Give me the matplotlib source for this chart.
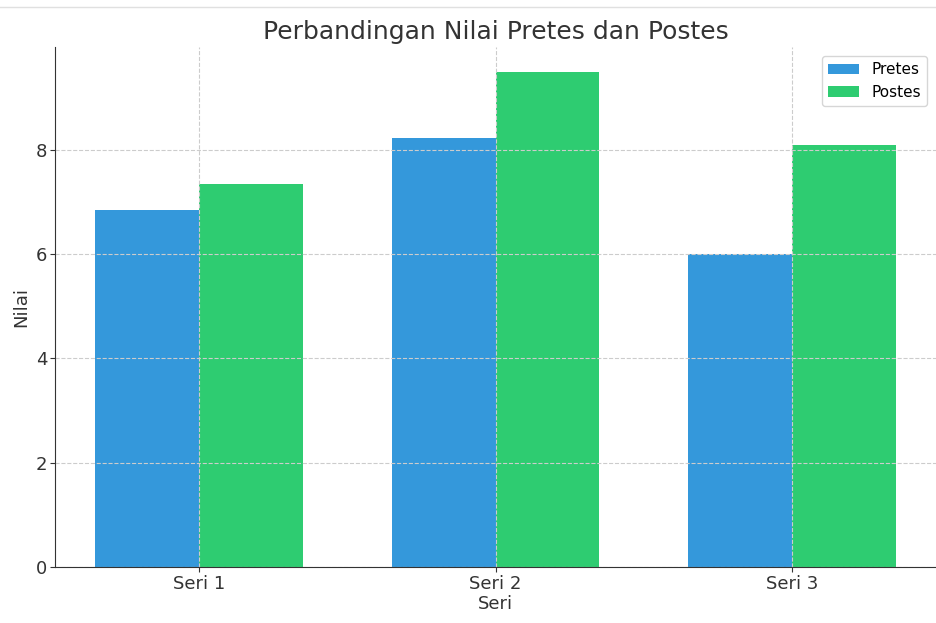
import matplotlib.pyplot as plt
import numpy as np

# data
seri = ['Seri 1', 'Seri 2', 'Seri 3']
pretes = [6.85, 8.22, 6.0]
postes = [7.35, 9.5, 8.1]

fig = plt.figure(figsize=(9.36, 6.23), dpi=100)
ax = fig.add_axes([55/936, 56/623, 881/936, 520/623])

x = np.arange(len(seri))
w = 0.35
ax.bar(x - w/2, pretes, w, label='Pretes', color='#3498db')
ax.bar(x + w/2, postes, w, label='Postes', color='#2ecc71')

ax.set_xticks(x)
ax.set_xticklabels(seri)
ax.set_title('Perbandingan Nilai Pretes dan Postes', fontsize=18, color='#333333', pad=6)
ax.set_xlabel('Seri', fontsize=13, color='#333333', labelpad=2)
ax.set_ylabel('Nilai', fontsize=13, color='#333333', labelpad=4)
ax.tick_params(labelsize=13, colors='#333333', pad=2)
ax.legend(fontsize=11, loc='upper right', borderaxespad=0.6)

ax.grid(True, linestyle='--', color='#cccccc', linewidth=0.8)
ax.spines['top'].set_visible(False)
ax.spines['right'].set_visible(False)
ax.spines['left'].set_color('#333333')
ax.spines['bottom'].set_color('#333333')

# faint line at top of screenshot
fig.add_artist(plt.Line2D([0, 1], [1 - 7/623, 1 - 7/623], color='#e0e0e0', linewidth=1))

fig.savefig('out.png', dpi=100)
